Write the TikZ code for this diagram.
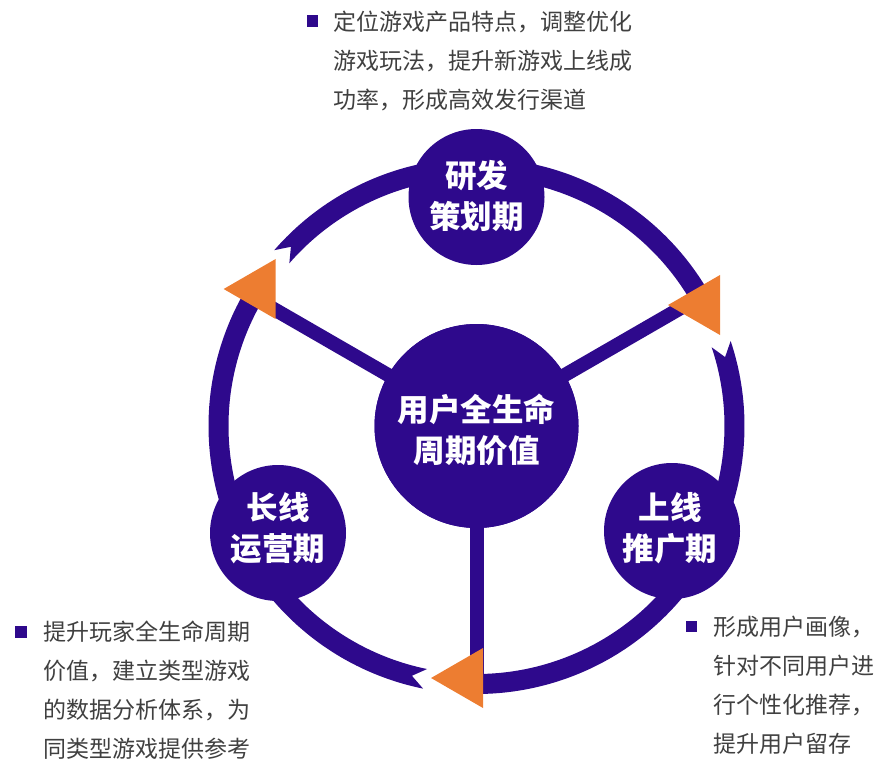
\documentclass[tikz,border=0pt]{standalone}
\usepackage{fontspec}
\setmainfont{Noto Sans CJK SC}
\usetikzlibrary{shapes.geometric}
\definecolor{pur}{RGB}{46,9,140}
\definecolor{org}{RGB}{237,125,49}
\definecolor{txt}{RGB}{64,64,64}
\begin{document}
\begin{tikzpicture}[x=1pt,y=-1pt,
  spoke/.style={draw=pur, line width=14pt},
  tri/.style={regular polygon, regular polygon sides=3, shape border rotate=90, fill=org, minimum size=69.3pt, inner sep=0pt, outer sep=0pt},
  bigc/.style={circle, fill=pur, minimum size=204pt, inner sep=0pt},
  smallc/.style={circle, fill=pur, minimum size=136pt, inner sep=0pt},
  lbl/.style={text=white, font=\fontsize{31.5}{41}\selectfont\bfseries, align=center, inner sep=0pt},
  desc/.style={text=txt, font=\fontsize{23}{23}\selectfont, inner sep=0pt, anchor=base west},
  bullet/.style={rectangle, fill=pur, minimum size=11.5pt, inner sep=0pt}]
\useasboundingbox (0,0) rectangle (893,773);
% ring segments
\begin{scope}[shift={(476.5,426)}, yscale=-1]
\def\Ro{268}\def\Ri{248}\def\Rm{258}
\fill[pur] (139:\Ro) arc[start angle=139, end angle=28, radius=\Ro] -- (28:\Ri) arc[start angle=28, end angle=139, radius=\Ri] -- (136:\Rm) -- cycle;
\fill[pur] (18.5:\Ro) arc[start angle=18.5, end angle=-92.5, radius=\Ro] -- (-92.5:\Ri) arc[start angle=-92.5, end angle=18.5, radius=\Ri] -- (15.5:\Rm) -- cycle;
\fill[pur] (258.5:\Ro) arc[start angle=258.5, end angle=148, radius=\Ro] -- (148:\Ri) arc[start angle=148, end angle=258.5, radius=\Ri] -- (255.5:\Rm) -- cycle;
\end{scope}
% nodes
\node[bigc] (c) at (476.5,426) {};
\coordinate (eL) at (264.3,303.5);
\coordinate (eR) at (697.3,298.5);
\coordinate (eB) at (476.5,676);
\draw[spoke] (c.center) -- (eL);
\draw[spoke] (c.center) -- (eR);
\draw[spoke] (c.center) -- (eB);
\node[bigc] (c2) at (476.5,426) {};
\node[lbl] (cl) at (476.5,430) {用户全生命\\周期价值};
\node[smallc] (t) at (476.5,197) {};
\node[smallc] (l) at (278,533) {};
\node[smallc] (r) at (672,531) {};
\node[lbl] (tl) at (476.5,196) {研发\\策划期};
\node[lbl] (ll) at (278,528) {长线\\运营期};
\node[lbl] (rl) at (670,528) {上线\\推广期};
\node[tri] (triL) at (258.3,289) {};
\node[tri] (triR) at (702.7,305) {};
\node[tri] (triB) at (465.7,678) {};
% descriptions
\node[bullet] (b1) at (312.5,21) {};
\node[desc] (d1a) at (333,30.7) {定位游戏产品特点，调整优化};
\node[desc] (d1b) at (333,69.7) {游戏玩法，提升新游戏上线成};
\node[desc] (d1c) at (333,108.7) {功率，形成高效发行渠道};
\node[bullet] (b2) at (21,632) {};
\node[desc] (d2a) at (43,640.7) {提升玩家全生命周期};
\node[desc] (d2b) at (43,679.7) {价值，建立类型游戏};
\node[desc] (d2c) at (43,718.7) {的数据分析体系，为};
\node[desc] (d2d) at (43,757.7) {同类型游戏提供参考};
\node[bullet] (b3) at (691.5,626.5) {};
\node[desc] (d3a) at (713,635.7) {形成用户画像，};
\node[desc] (d3b) at (713,674.7) {针对不同用户进};
\node[desc] (d3c) at (713,713.7) {行个性化推荐，};
\node[desc] (d3d) at (713,752.7) {提升用户留存};
\end{tikzpicture}
\end{document}
